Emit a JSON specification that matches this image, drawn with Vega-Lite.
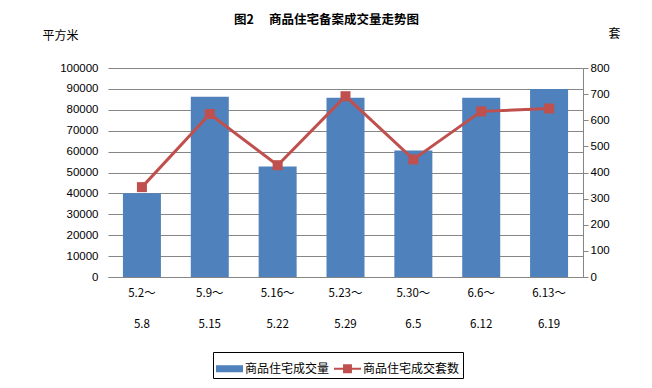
{
  "$schema": "https://vega.github.io/schema/vega-lite/v6.json",
  "autosize": {"type": "none"},
  "width": 475,
  "height": 209,
  "padding": {"left": 108, "top": 68, "right": 69, "bottom": 111},
  "background": "white",
  "title": {
    "text": "图2　 商品住宅备案成交量走势图",
    "font": "Noto Sans CJK SC",
    "fontSize": 12.5,
    "fontWeight": "bold",
    "color": "black",
    "anchor": "middle",
    "frame": "group",
    "dx": -19,
    "offset": 1
  },
  "data": {
    "values": [
      {"period": "5.2～5.8", "series": "商品住宅成交量", "value": 40100},
      {"period": "5.9～5.15", "series": "商品住宅成交量", "value": 86300},
      {"period": "5.16～5.22", "series": "商品住宅成交量", "value": 52900},
      {"period": "5.23～5.29", "series": "商品住宅成交量", "value": 85800},
      {"period": "5.30～6.5", "series": "商品住宅成交量", "value": 60500},
      {"period": "6.6～6.12", "series": "商品住宅成交量", "value": 85800},
      {"period": "6.13～6.19", "series": "商品住宅成交量", "value": 90000},
      {"period": "5.2～5.8", "series": "商品住宅成交套数", "value": 344},
      {"period": "5.9～5.15", "series": "商品住宅成交套数", "value": 624},
      {"period": "5.16～5.22", "series": "商品住宅成交套数", "value": 428},
      {"period": "5.23～5.29", "series": "商品住宅成交套数", "value": 692},
      {"period": "5.30～6.5", "series": "商品住宅成交套数", "value": 450},
      {"period": "6.6～6.12", "series": "商品住宅成交套数", "value": 634},
      {"period": "6.13～6.19", "series": "商品住宅成交套数", "value": 645}
    ]
  },
  "encoding": {
    "x": {
      "field": "period",
      "type": "nominal",
      "sort": null,
      "scale": {"paddingInner": 0.44, "paddingOuter": 0.22},
      "axis": {
        "title": null,
        "labelAngle": 0,
        "labelExpr": "[split(datum.label,'～')[0] + '～', split(datum.label,'～')[1]]",
        "labelLineHeight": 31,
        "labelFont": "Noto Sans CJK SC",
        "labelFontSize": 11.5,
        "labelColor": "black",
        "labelPadding": 10,
        "ticks": false,
        "domain": true,
        "domainColor": "#868686",
        "grid": false
      }
    },
    "color": {
      "field": "series",
      "type": "nominal",
      "scale": {"domain": ["商品住宅成交量", "商品住宅成交套数"], "range": ["#4F81BD", "#C0504D"]},
      "legend": {
        "title": null,
        "orient": "none",
        "legendX": 105,
        "legendY": 284,
        "direction": "horizontal",
        "strokeColor": "black",
        "padding": 3,
        "columnPadding": 4,
        "symbolSize": 729,
        "symbolStrokeWidth": 0,
        "labelFont": "Noto Sans CJK SC",
        "labelFontSize": 12,
        "labelColor": "black",
        "labelOffset": 2,
        "encode": {
          "symbols": {
            "update": {
              "shape": {"signal": "datum.value == '商品住宅成交量' ? 'M-1,-0.26H1V0.26H-1Z' : 'M-1,-0.08H-0.33V-0.33H0.33V-0.08H1V0.08H0.33V0.33H-0.33V0.08H-1Z'"},
              "strokeWidth": {"value": 0}
            }
          }
        }
      }
    }
  },
  "layer": [
    {
      "transform": [{"filter": "datum.series == '商品住宅成交量'"}],
      "mark": {"type": "bar"},
      "encoding": {
        "y": {
          "field": "value",
          "type": "quantitative",
          "scale": {"domain": [0, 100000], "nice": false},
          "axis": {
            "orient": "left",
            "values": [0, 10000, 20000, 30000, 40000, 50000, 60000, 70000, 80000, 90000, 100000],
            "format": "d",
            "grid": true,
            "gridColor": "#868686",
            "gridWidth": 1,
            "gridOpacity": 1,
            "domain": false,
            "ticks": false,
            "labelPadding": 10,
            "labelFont": "Liberation Sans",
            "labelFontSize": 11.5,
            "labelColor": "black",
            "title": "平方米",
            "titleFont": "Noto Sans CJK SC",
            "titleFontSize": 12,
            "titleFontWeight": "normal",
            "titleColor": "black",
            "titleAngle": 0,
            "titleAlign": "left",
            "titleBaseline": "middle",
            "titleX": -66,
            "titleY": -33
          }
        }
      }
    },
    {
      "transform": [{"filter": "datum.series == '商品住宅成交套数'"}],
      "mark": {"type": "line", "strokeWidth": 3, "point": {"shape": "square", "size": 100, "filled": true, "opacity": 1}},
      "encoding": {
        "y": {
          "field": "value",
          "type": "quantitative",
          "scale": {"domain": [0, 800], "nice": false},
          "axis": {
            "orient": "right",
            "values": [0, 100, 200, 300, 400, 500, 600, 700, 800],
            "grid": false,
            "domain": true,
            "domainColor": "#868686",
            "ticks": true,
            "tickColor": "#868686",
            "tickSize": 5,
            "labelPadding": 2,
            "labelFont": "Liberation Sans",
            "labelFontSize": 11.5,
            "labelColor": "black",
            "title": "套",
            "titleFont": "Noto Sans CJK SC",
            "titleFontSize": 12,
            "titleFontWeight": "normal",
            "titleColor": "black",
            "titleAngle": 0,
            "titleAlign": "left",
            "titleBaseline": "middle",
            "titleX": 25,
            "titleY": -35
          }
        }
      }
    }
  ],
  "resolve": {"scale": {"y": "independent"}},
  "config": {
    "view": {"stroke": null}
  }
}
